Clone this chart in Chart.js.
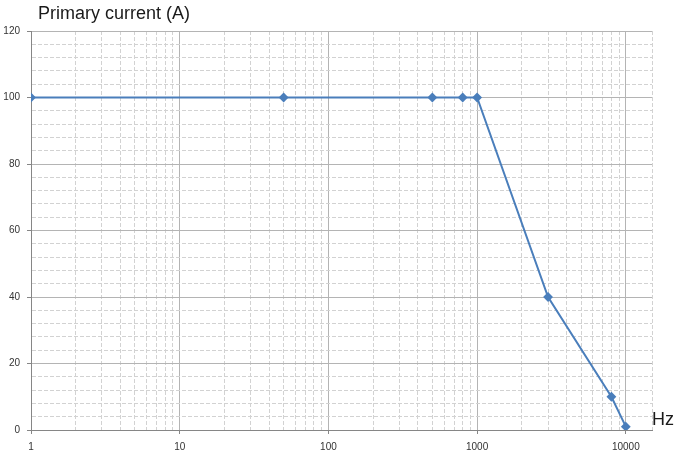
<!DOCTYPE html>
<html>
<head>
<meta charset="utf-8">
<script src="https://cdn.jsdelivr.net/npm/chart.js@4/dist/chart.umd.min.js"></script>
<style>
  html, body { margin: 0; padding: 0; background: #fff; }
  #wrap { width: 681px; height: 456px; position: relative; }
</style>
</head>
<body>
<div id="wrap"><canvas id="c" width="681" height="456"></canvas></div>
<script>
// ---- data ----
const freqHz = [1, 50, 500, 800, 1000, 3000, 8000, 10000];
const currentA = [100, 100, 100, 100, 100, 40, 10, 1];
const xDecadeLabels = [1, 10, 100, 1000, 10000];
const xMin = 1, xMax = 15000;
const yMin = 0, yMax = 120, yMajorStep = 20, yMinorStep = 4;
const yTitle = 'Primary current (A)';
const xTitle = 'Hz';

const FONT = '"Liberation Sans", Arial, sans-serif';
const MAJOR = '#b4b4b4', MINOR = '#d2d2d2', AXIS = '#868686';

function isDecade(v) {
  const l = Math.log10(v);
  return Math.abs(l - Math.round(l)) < 1e-9;
}
function xTickValues() {
  const vals = [];
  for (let d = 1; d <= 10000; d *= 10) {
    for (let m = 1; m <= 9; m++) {
      const v = m * d;
      if (v <= 10000) vals.push(v);
    }
  }
  vals.push(xMax);
  return vals;
}

const textPlugin = {
  id: 'texts',
  afterDraw(chart) {
    const c = chart.ctx, a = chart.chartArea;
    c.save();
    c.font = '18px ' + FONT;
    c.fillStyle = '#1a1a1a';
    c.textBaseline = 'alphabetic';
    c.textAlign = 'left';
    c.fillText(yTitle, a.left + 7, a.top - 12);
    c.fillText(xTitle, a.right, a.bottom - 5);
    c.restore();
  }
};

new Chart(document.getElementById('c'), {
  type: 'line',
  data: {
    datasets: [{
      data: freqHz.map((f, i) => ({ x: f, y: currentA[i] })),
      borderColor: '#4a7ebb',
      backgroundColor: '#4a7ebb',
      borderWidth: 2,
      pointStyle: 'rectRot',
      pointRadius: 3.5,
      pointHoverRadius: 3.5,
      tension: 0
    }]
  },
  options: {
    responsive: false,
    animation: false,
    layout: { padding: { top: 31, right: 29, left: 0, bottom: 0 } },
    plugins: { legend: { display: false }, tooltip: { enabled: false }, title: { display: false } },
    scales: {
      x: {
        type: 'logarithmic',
        min: xMin, max: xMax,
        afterBuildTicks(scale) { scale.ticks = xTickValues().map(v => ({ value: v })); },
        afterFit(scale) { scale.height = 26; },
        ticks: {
          autoSkip: false, maxRotation: 0, minRotation: 0,
          padding: 7,
          color: '#333333',
          font: { family: FONT, size: 10 },
          callback: (v) => xDecadeLabels.includes(v) ? String(v) : ''
        },
        grid: {
          color: ctx => (ctx.tick && isDecade(ctx.tick.value) && ctx.tick.value !== xMin) ? MAJOR : MINOR,
          lineWidth: 1,
          drawTicks: true,
          tickLength: 4,
          tickColor: ctx => (ctx.tick && isDecade(ctx.tick.value)) ? AXIS : 'rgba(0,0,0,0)'
        },
        border: {
          display: true, color: AXIS, width: 1,
          dash: ctx => (ctx.tick && !isDecade(ctx.tick.value)) ? [4, 2] : []
        }
      },
      y: {
        type: 'linear',
        min: yMin, max: yMax,
        afterFit(scale) { scale.width = 31; },
        ticks: {
          stepSize: yMinorStep,
          autoSkip: false,
          padding: 7,
          color: '#333333',
          font: { family: FONT, size: 10 },
          callback: (v) => (v % yMajorStep === 0) ? String(v) : ''
        },
        grid: {
          color: ctx => (ctx.tick && ctx.tick.value % yMajorStep === 0) ? MAJOR : MINOR,
          lineWidth: 1,
          drawTicks: true,
          tickLength: 4,
          tickColor: ctx => (ctx.tick && ctx.tick.value % yMajorStep === 0) ? AXIS : 'rgba(0,0,0,0)'
        },
        border: {
          display: true, color: AXIS, width: 1,
          dash: ctx => (ctx.tick && ctx.tick.value % yMajorStep !== 0) ? [4, 2] : []
        }
      }
    }
  },
  plugins: [textPlugin]
});
</script>
</body>
</html>
